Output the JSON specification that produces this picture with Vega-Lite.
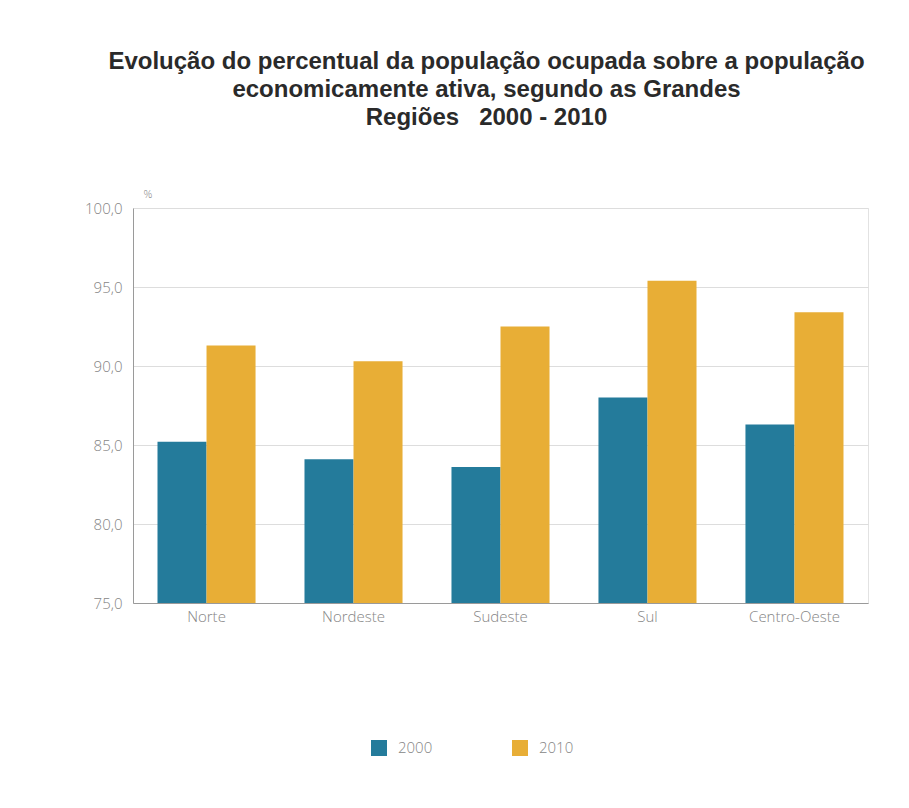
{
  "$schema": "https://vega.github.io/schema/vega-lite/v6.json",
  "width": 735,
  "height": 395,
  "autosize": {"type": "none"},
  "padding": {"left": 133, "top": 208, "right": 41, "bottom": 205},
  "background": "white",
  "title": {
    "text": ["Evolução do percentual da população ocupada sobre a população", "economicamente ativa, segundo as Grandes", "Regiões\u00a0\u00a0\u00a02000 - 2010"],
    "font": "Liberation Sans",
    "fontSize": 24,
    "fontWeight": "bold",
    "color": "#2a2a2a",
    "lineHeight": 28,
    "anchor": "middle",
    "dx": -14,
    "offset": 58
  },
  "data": {
    "values": [
      {"regiao": "Norte", "ano": "2000", "valor": 85.2},
      {"regiao": "Norte", "ano": "2010", "valor": 91.3},
      {"regiao": "Nordeste", "ano": "2000", "valor": 84.1},
      {"regiao": "Nordeste", "ano": "2010", "valor": 90.3},
      {"regiao": "Sudeste", "ano": "2000", "valor": 83.6},
      {"regiao": "Sudeste", "ano": "2010", "valor": 92.5},
      {"regiao": "Sul", "ano": "2000", "valor": 88.0},
      {"regiao": "Sul", "ano": "2010", "valor": 95.4},
      {"regiao": "Centro-Oeste", "ano": "2000", "valor": 86.3},
      {"regiao": "Centro-Oeste", "ano": "2010", "valor": 93.4}
    ]
  },
  "mark": {"type": "bar", "clip": true},
  "encoding": {
    "x": {
      "field": "regiao",
      "type": "nominal",
      "sort": ["Norte", "Nordeste", "Sudeste", "Sul", "Centro-Oeste"],
      "scale": {"paddingInner": 0.333, "paddingOuter": 0.1667},
      "axis": {
        "title": null,
        "labelAngle": 0,
        "ticks": false,
        "labelPadding": 6,
        "domainColor": "#9a9a9a",
        "labelFont": "Open Sans",
        "labelFontSize": 15,
        "labelFontWeight": 300,
        "labelColor": "#858585"
      }
    },
    "xOffset": {"field": "ano", "type": "nominal"},
    "y": {
      "field": "valor",
      "type": "quantitative",
      "scale": {"domain": [75, 100], "zero": false, "nice": false},
      "axis": {
        "values": [75, 80, 85, 90, 95, 100],
        "labelExpr": "replace(format(datum.value, '.1f'), '.', ',')",
        "title": "%",
        "titleAngle": 0,
        "titleX": 10,
        "titleY": -9,
        "titleAlign": "left",
        "titleFont": "Open Sans",
        "titleFontSize": 11,
        "titleFontWeight": 300,
        "titleColor": "#858585",
        "ticks": false,
        "labelPadding": 11,
        "domainColor": "#9a9a9a",
        "gridColor": "#dddddd",
        "labelFont": "Open Sans",
        "labelFontSize": 15,
        "labelFontWeight": 300,
        "labelColor": "#858585"
      }
    },
    "color": {
      "field": "ano",
      "type": "nominal",
      "scale": {"domain": ["2000", "2010"], "range": ["#247b9b", "#e8ae36"]},
      "legend": {
        "title": null,
        "orient": "none",
        "direction": "horizontal",
        "legendX": 238,
        "legendY": 532,
        "symbolType": "square",
        "symbolSize": 256,
        "symbolStrokeWidth": 0,
        "labelOffset": 11,
        "columnPadding": 79,
        "labelFont": "Open Sans",
        "labelFontSize": 15,
        "labelFontWeight": 300,
        "labelColor": "#858585"
      }
    }
  },
  "config": {
    "view": {"stroke": "#e2e2e2"}
  }
}
